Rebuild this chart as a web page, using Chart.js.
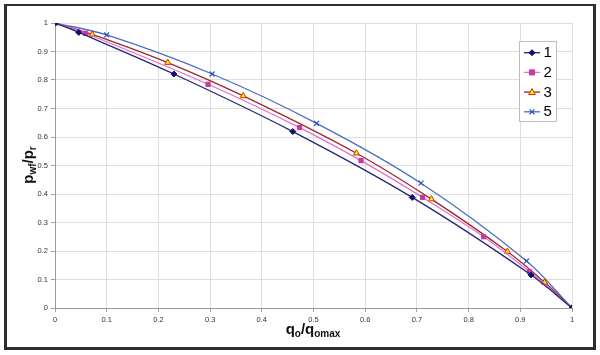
<!DOCTYPE html>
<html>
<head>
<meta charset="utf-8">
<script src="https://cdn.jsdelivr.net/npm/chart.js@4/dist/chart.umd.min.js"></script>
<style>
  html, body { margin: 0; padding: 0; background: #fff; }
  #wrap { position: relative; width: 600px; height: 355px; overflow: hidden; font-family: Arial, "Liberation Sans", sans-serif; }
  #c { position: absolute; left: 0; top: 0; }
  #frame { position: absolute; left: 4px; top: 4px; width: 592px; height: 346px; box-sizing: border-box;
           border-style: solid; border-color: #2e2e2e; border-width: 2px 3px 3px 3px; pointer-events: none; }
  .ttl { position: absolute; font-weight: bold; font-size: 15px; color: #111; white-space: nowrap; line-height: 15px; }
  .sb { font-size: 10px; position: relative; top: 3px; }
  #xt { left: 313px; top: 321px; transform: translateX(-50%); }
  #ytw { position: absolute; left: 28px; top: 165px; width: 0; height: 0; }
  #yt { left: 0; top: 0; transform: translate(-50%, -50%) rotate(-90deg); }
</style>
</head>
<body>
<div id="wrap">
  <canvas id="c" width="600" height="355"></canvas>
  <div id="frame"></div>
  <div class="ttl" id="xt">q<span class="sb">o</span>/q<span class="sb">omax</span></div>
  <div id="ytw"><div class="ttl" id="yt">p<span class="sb">wf</span>/p<span class="sb">r</span></div></div>
</div>
<script>
// ---- data ----
const seriesLabels = ['1', '2', '3', '5'];

const s1x = [0, 0.046, 0.23, 0.46, 0.691, 0.921, 1];
const s1y = [1, 0.967, 0.821, 0.619, 0.388, 0.116, 0];

const s2x = [0, 0.059, 0.296, 0.473, 0.592, 0.711, 0.829, 0.918, 1];
const s2y = [1, 0.964, 0.785, 0.633, 0.517, 0.388, 0.25, 0.127, 0];

const s3x = [0, 0.072, 0.218, 0.364, 0.583, 0.728, 0.875, 0.947, 1];
const s3y = [1, 0.96, 0.861, 0.744, 0.543, 0.382, 0.198, 0.09, 0];

const s5x = [0, 0.1, 0.304, 0.506, 0.708, 0.912, 1];
const s5y = [1, 0.958, 0.821, 0.648, 0.438, 0.165, 0];

const xTickLabels = ['0', '0.1', '0.2', '0.3', '0.4', '0.5', '0.6', '0.7', '0.8', '0.9', '1'];
const yTickLabels = ['0', '0.1', '0.2', '0.3', '0.4', '0.5', '0.6', '0.7', '0.8', '0.9', '1'];

function pts(xs, ys) { return xs.map((x, i) => ({ x: x, y: ys[i] })); }

const styles = [
  { line: '#24247a', fill: '#101070', border: '#101070', ps: 'rectRot', r: 3, bw: 1 },
  { line: '#e070d0', fill: '#c8389e', border: '#c8389e', ps: 'rect', r: 3, bw: 1 },
  { line: '#9a2a2a', fill: '#ffee00', border: '#cc3300', ps: 'triangle', r: 3.5, bw: 1 },
  { line: '#4a6cc4', fill: '#3050b8', border: '#3050b8', ps: 'crossRot', r: 3.5, bw: 1.2 }
];
const allData = [pts(s1x, s1y), pts(s2x, s2y), pts(s3x, s3y), pts(s5x, s5y)];

const datasets = allData.map((d, i) => ({
  label: seriesLabels[i],
  data: d,
  showLine: true,
  borderColor: styles[i].line,
  borderWidth: 1.3,
  tension: 0.35,
  pointStyle: styles[i].ps,
  pointRadius: styles[i].r,
  pointBackgroundColor: styles[i].fill,
  pointBorderColor: styles[i].border,
  pointBorderWidth: styles[i].bw,
  fill: false
}));

function drawMarker(ctx, st, x, y) {
  ctx.save();
  ctx.fillStyle = st.fill;
  ctx.strokeStyle = st.border;
  ctx.lineWidth = st.bw;
  const r = st.r;
  ctx.beginPath();
  if (st.ps === 'rectRot') {
    ctx.moveTo(x, y - r); ctx.lineTo(x + r, y); ctx.lineTo(x, y + r); ctx.lineTo(x - r, y); ctx.closePath();
    ctx.fill(); ctx.stroke();
  } else if (st.ps === 'rect') {
    const s = r * 0.85;
    ctx.rect(x - s, y - s, 2 * s, 2 * s); ctx.fill(); ctx.stroke();
  } else if (st.ps === 'triangle') {
    ctx.moveTo(x, y - r); ctx.lineTo(x + r * 0.95, y + r * 0.7); ctx.lineTo(x - r * 0.95, y + r * 0.7); ctx.closePath();
    ctx.fill(); ctx.stroke();
  } else {
    const s = r * 0.7;
    ctx.moveTo(x - s, y - s); ctx.lineTo(x + s, y + s); ctx.moveTo(x + s, y - s); ctx.lineTo(x - s, y + s);
    ctx.stroke();
  }
  ctx.restore();
}

const legendPlugin = {
  id: 'boxLegend',
  afterDraw(chart) {
    const ctx = chart.ctx;
    const bx = 519.5, by = 41.5, bw = 37, bh = 80;
    ctx.save();
    ctx.fillStyle = '#ffffff';
    ctx.fillRect(bx, by, bw, bh);
    ctx.strokeStyle = '#bdbdbd';
    ctx.lineWidth = 1;
    ctx.strokeRect(bx, by, bw, bh);
    chart.data.datasets.forEach((ds, i) => {
      const y = 52.7 + i * 19.7;
      ctx.strokeStyle = styles[i].line;
      ctx.lineWidth = 1.3;
      ctx.beginPath();
      ctx.moveTo(524, y); ctx.lineTo(540, y); ctx.stroke();
      drawMarker(ctx, styles[i], 532, y);
      ctx.fillStyle = '#000';
      ctx.font = '15px Arial, "Liberation Sans", sans-serif';
      ctx.textBaseline = 'middle';
      ctx.textAlign = 'left';
      ctx.fillText(ds.label, 543.5, y + 0.5);
    });
    ctx.restore();
  }
};

new Chart(document.getElementById('c'), {
  type: 'scatter',
  data: { datasets: datasets },
  options: {
    responsive: false,
    animation: false,
    devicePixelRatio: 1,
    layout: { padding: { left: 0, right: 28, top: 23, bottom: 0 } },
    plugins: { legend: { display: false }, tooltip: { enabled: false } },
    scales: {
      x: {
        type: 'linear', min: 0, max: 1,
        afterFit(scale) { scale.height = 47; },
        ticks: {
          stepSize: 0.1, autoSkip: false, maxRotation: 0, padding: 3,
          color: '#333', font: { size: 7.5, family: 'Arial, "Liberation Sans", sans-serif' },
          callback: (v, i) => xTickLabels[i]
        },
        grid: { color: '#dedede', lineWidth: 1, tickLength: 4, tickColor: '#a0a0a0' },
        border: { color: '#9a9a9a', width: 1 }
      },
      y: {
        type: 'linear', min: 0, max: 1,
        afterFit(scale) { scale.width = 55; },
        ticks: {
          stepSize: 0.1, autoSkip: false, padding: 3,
          color: '#333', font: { size: 7.5, family: 'Arial, "Liberation Sans", sans-serif' },
          callback: (v, i) => yTickLabels[i]
        },
        grid: { color: '#dedede', lineWidth: 1, tickLength: 4, tickColor: '#a0a0a0' },
        border: { color: '#9a9a9a', width: 1 }
      }
    }
  },
  plugins: [legendPlugin]
});
</script>
</body>
</html>
